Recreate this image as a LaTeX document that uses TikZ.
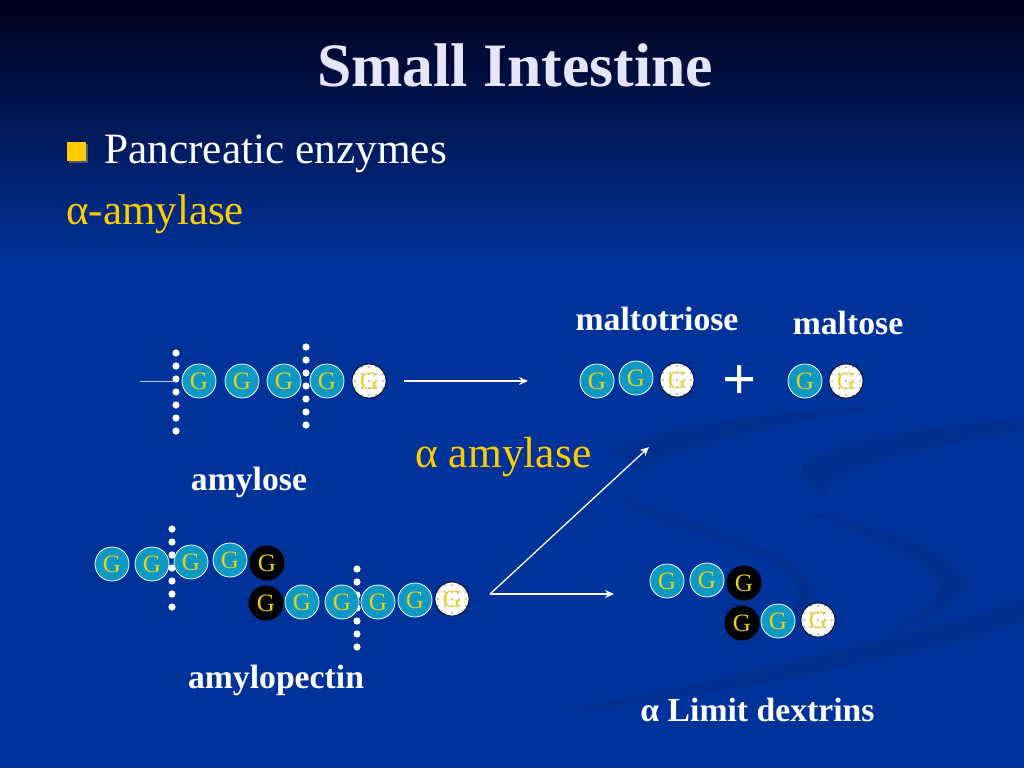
\documentclass[tikz,border=0pt]{standalone}
\usepackage{fontspec}
\setmainfont{Liberation Serif}
\usetikzlibrary{arrows,arrows.meta,shapes,positioning,shadows}
\definecolor{slideblue}{RGB}{0,51,153}
\definecolor{slidedark}{RGB}{0,2,32}
\definecolor{swoosh}{RGB}{0,47,144}
\definecolor{glucteal}{RGB}{14,153,196}
\definecolor{glucgold}{RGB}{232,208,30}
\definecolor{labelgold}{RGB}{255,204,0}
\definecolor{titlewhite}{RGB}{230,230,250}
\tikzstyle{gbase} = [circle,minimum size=34pt,inner sep=0pt,text=glucgold,font=\fontsize{25}{25}\selectfont]
\tikzstyle{gteal} = [gbase,draw=white,line width=0.8pt,fill=glucteal]
\tikzstyle{gblack} = [gbase,fill=black,minimum size=35pt]
\tikzstyle{gwhite} = [gbase,fill=white,draw=black,line width=0.8pt,path picture={
  \foreach \dx in {-14,-7,0,7,14}
    \foreach \dy in {-14,-7,0,7,14}
      \fill[black] ([shift={(\dx pt,\dy pt)}]path picture bounding box.center) circle (0.7pt);}]
\tikzstyle{namelabel} = [text=white,font=\fontsize{33.7}{34}\selectfont\bfseries]
\tikzstyle{arrow} = [line width=1.3pt,-{Stealth[length=9pt,width=8pt]},color=white]
\tikzstyle{cutdot} = [fill=white]

\begin{document}
\begin{tikzpicture}[x=1pt,y=-1pt]
\useasboundingbox (0,0) rectangle (1024,768);
% Background
\fill[slideblue] (0,0) rectangle (1024,768);
\shade[top color=slidedark,bottom color=slideblue] (0,12) rectangle (1024,265);
\fill[slidedark] (0,0) rectangle (1024,13);
\begin{scope}
\clip (0,0) rectangle (1024,768);
\fill[swoosh] (1024,598) .. controls (900,640) and (720,680) .. (560,712) .. controls (700,700) and (900,660) .. (1024,622) -- cycle;
\fill[swoosh] (1024,418) .. controls (930,425) and (830,440) .. (802,465) .. controls (800,482) and (815,490) .. (825,497) .. controls (822,475) and (880,455) .. (1024,430) -- cycle;
\fill[swoosh] (610,450) .. controls (680,420) and (800,410) .. (900,405) .. controls (800,420) and (690,440) .. (640,470) -- cycle;
\fill[swoosh] (605,492) .. controls (700,530) and (800,550) .. (815,590) .. controls (820,610) and (770,640) .. (690,665) .. controls (790,630) and (815,600) .. (790,575) .. controls (760,545) and (660,530) .. (605,492) -- cycle;
\fill[swoosh] (800,510) .. controls (900,530) and (975,560) .. (965,590) .. controls (950,610) and (920,625) .. (890,630) .. controls (930,610) and (950,590) .. (930,570) .. controls (900,545) and (850,530) .. (800,510) -- cycle;
\end{scope}

% Heading
\node[text=titlewhite,font=\fontsize{61.7}{62}\selectfont\bfseries] (title) at (515,65) {Small Intestine};
\node[fill=labelgold,minimum size=19pt,inner sep=0pt,drop shadow={shadow xshift=1.5pt,shadow yshift=-1.5pt,opacity=0.6}] (bullet) at (76.5,151.5) {};
\node[anchor=base west,inner sep=0pt,text=white,font=\fontsize{43.3}{44}\selectfont] (enzymes) at (104,163) {Pancreatic enzymes};
\node[anchor=base west,inner sep=0pt,text=labelgold,font=\fontsize{43}{44}\selectfont] (amylase) at (66,224) {α-amylase};

% Cuts on amylose
\foreach \y in {353,366,...,431} \fill[cutdot] (176,\y) circle (3.6pt);
\foreach \y in {347,360,...,425} \fill[cutdot] (306,\y) circle (3.6pt);

% Amylose
\node[gteal] (a1) at (199,381) {G};
\node[gteal] (a2) at (242,381) {G};
\node[gteal] (a3) at (284,381) {G};
\node[gteal] (a4) at (327,381) {G};
\node[gwhite] (a5) at (369,381) {G};
\coordinate (stem) at (140,381);
\coordinate (stemend) at (176,381);
\draw[white!75!slideblue,line width=1pt] (stem) -- (stemend);
\node[namelabel] (amylose) at (249,482) {amylose};

% First arrow
\coordinate (arrowa) at (404,381);
\coordinate (arrowb) at (528,381);
\draw[arrow] (arrowa) -- (arrowb);

% Products
\node[gteal] (t1) at (597,381) {G};
\node[gteal] (t2) at (636,378) {G};
\node[gwhite] (t3) at (677,380) {G};
\node[text=white,font=\fontsize{60}{60}\selectfont\bfseries] (plus) at (740,383) {+};
\node[gteal] (m1) at (805,381) {G};
\node[gwhite] (m2) at (846,381) {G};
\node[namelabel] (maltotriose) at (657,319) {maltotriose};
\node[namelabel] (maltose) at (848,323) {maltose};
\node[anchor=base west,inner sep=0pt,text=labelgold,font=\fontsize{43.5}{44}\selectfont] (enzyme) at (415,467) {α amylase};

% Cuts on amylopectin
\foreach \y in {529,542,...,607} \fill[cutdot] (172,\y) circle (3.6pt);
\foreach \y in {569,582,...,647} \fill[cutdot] (357,\y) circle (3.6pt);

% Amylopectin
\node[gteal] (p1) at (112,564) {G};
\node[gteal] (p2) at (152,564) {G};
\node[gteal] (p3) at (191,562) {G};
\node[gteal] (p4) at (230,560) {G};
\node[gblack] (p5) at (267,563) {G};
\node[gblack] (q1) at (266,603) {G};
\node[gteal] (q2) at (302,602) {G};
\node[gteal] (q3) at (342,602) {G};
\node[gteal] (q4) at (378,602) {G};
\node[gteal] (q5) at (415,600) {G};
\node[gwhite] (q6) at (452,599) {G};
\node[namelabel] (amylopectin) at (276,680) {amylopectin};

% Split arrows
\coordinate (fork) at (490,594);
\coordinate (forkup) at (649,447);
\coordinate (forkright) at (614,594);
\draw[arrow] (fork) -- (forkup);
\draw[arrow] (fork) -- (forkright);

% Limit dextrins
\node[gteal] (d1) at (667,581) {G};
\node[gteal] (d2) at (707,580) {G};
\node[gblack] (d3) at (744,583) {G};
\node[gblack] (d4) at (742,623) {G};
\node[gteal] (d5) at (778,621) {G};
\node[gwhite] (d6) at (818,620) {G};
\node[namelabel] (dextrins) at (757.5,710) {α Limit dextrins};
\end{tikzpicture}
\end{document}
